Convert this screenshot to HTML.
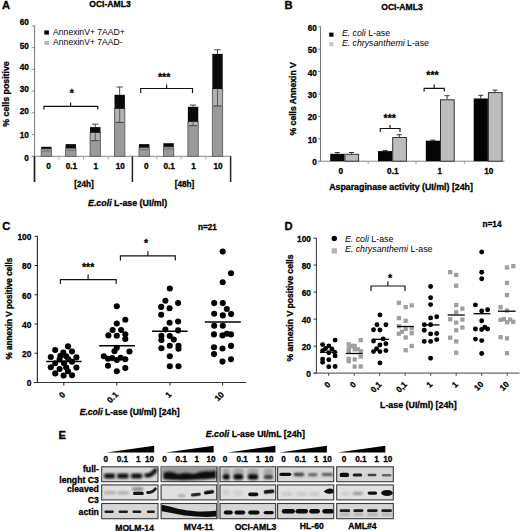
<!DOCTYPE html>
<html><head><meta charset="utf-8"><style>
html,body{margin:0;padding:0;background:#fff;}
svg{display:block;}
text{stroke:#000;stroke-width:0.3px;}
text[font-weight="normal"], text:not([font-weight]){stroke:none;}
</style></head><body>
<svg width="520" height="531" viewBox="0 0 520 531" font-family='"Liberation Sans", sans-serif'>
<defs>
<filter id="b3" x="-50%" y="-100%" width="200%" height="300%"><feGaussianBlur stdDeviation="0.3"/></filter><filter id="b4" x="-50%" y="-100%" width="200%" height="300%"><feGaussianBlur stdDeviation="0.4"/></filter><filter id="b5" x="-50%" y="-100%" width="200%" height="300%"><feGaussianBlur stdDeviation="0.5"/></filter><filter id="b6" x="-50%" y="-100%" width="200%" height="300%"><feGaussianBlur stdDeviation="0.6"/></filter><filter id="b7" x="-50%" y="-100%" width="200%" height="300%"><feGaussianBlur stdDeviation="0.7"/></filter><filter id="b8" x="-50%" y="-100%" width="200%" height="300%"><feGaussianBlur stdDeviation="0.8"/></filter><filter id="b9" x="-50%" y="-100%" width="200%" height="300%"><feGaussianBlur stdDeviation="0.9"/></filter><filter id="b10" x="-50%" y="-100%" width="200%" height="300%"><feGaussianBlur stdDeviation="1.0"/></filter><filter id="b11" x="-50%" y="-100%" width="200%" height="300%"><feGaussianBlur stdDeviation="1.1"/></filter><filter id="b12" x="-50%" y="-100%" width="200%" height="300%"><feGaussianBlur stdDeviation="1.2"/></filter><filter id="b13" x="-50%" y="-100%" width="200%" height="300%"><feGaussianBlur stdDeviation="1.3"/></filter><filter id="b14" x="-50%" y="-100%" width="200%" height="300%"><feGaussianBlur stdDeviation="1.4"/></filter><filter id="b15" x="-50%" y="-100%" width="200%" height="300%"><feGaussianBlur stdDeviation="1.5"/></filter>
</defs>
<rect width="520" height="531" fill="#fff"/>
<text x="2.00" y="9.20" font-size="11.2" font-weight="bold" text-anchor="start" >A</text>
<text x="110.00" y="6.60" font-size="8.6" font-weight="bold" text-anchor="middle" >OCI-AML3</text>
<line x1="34.60" y1="25.60" x2="34.60" y2="156.30" stroke="#777" stroke-width="1" />
<line x1="32.30" y1="25.92" x2="34.60" y2="25.92" stroke="#777" stroke-width="1" />
<text x="28.90" y="25.10" font-size="8.2" font-weight="bold" text-anchor="end" >60</text>
<line x1="32.30" y1="47.65" x2="34.60" y2="47.65" stroke="#777" stroke-width="1" />
<text x="28.90" y="49.30" font-size="8.2" font-weight="bold" text-anchor="end" >50</text>
<line x1="32.30" y1="69.38" x2="34.60" y2="69.38" stroke="#777" stroke-width="1" />
<text x="28.90" y="70.00" font-size="8.2" font-weight="bold" text-anchor="end" >40</text>
<line x1="32.30" y1="91.11" x2="34.60" y2="91.11" stroke="#777" stroke-width="1" />
<text x="28.90" y="92.30" font-size="8.2" font-weight="bold" text-anchor="end" >30</text>
<line x1="32.30" y1="112.84" x2="34.60" y2="112.84" stroke="#777" stroke-width="1" />
<text x="28.90" y="114.00" font-size="8.2" font-weight="bold" text-anchor="end" >20</text>
<line x1="32.30" y1="134.57" x2="34.60" y2="134.57" stroke="#777" stroke-width="1" />
<text x="28.90" y="137.90" font-size="8.2" font-weight="bold" text-anchor="end" >10</text>
<line x1="32.30" y1="156.30" x2="34.60" y2="156.30" stroke="#777" stroke-width="1" />
<text x="28.90" y="160.80" font-size="8.2" font-weight="bold" text-anchor="end" >0</text>
<line x1="32.30" y1="156.30" x2="230.80" y2="156.30" stroke="#888" stroke-width="1" />
<line x1="34.50" y1="156.30" x2="34.50" y2="182.00" stroke="#222" stroke-width="1.7" />
<line x1="132.40" y1="156.30" x2="132.40" y2="182.00" stroke="#222" stroke-width="1.5" />
<line x1="230.60" y1="156.30" x2="230.60" y2="182.00" stroke="#222" stroke-width="1.5" />
<line x1="58.90" y1="156.30" x2="58.90" y2="159.50" stroke="#aaa" stroke-width="1" />
<line x1="83.60" y1="156.30" x2="83.60" y2="159.50" stroke="#aaa" stroke-width="1" />
<line x1="108.20" y1="156.30" x2="108.20" y2="159.50" stroke="#aaa" stroke-width="1" />
<line x1="156.90" y1="156.30" x2="156.90" y2="159.50" stroke="#aaa" stroke-width="1" />
<line x1="181.20" y1="156.30" x2="181.20" y2="159.50" stroke="#aaa" stroke-width="1" />
<line x1="205.80" y1="156.30" x2="205.80" y2="159.50" stroke="#aaa" stroke-width="1" />
<rect x="41.15" y="148.80" width="10.40" height="7.50" fill="#9a9a9a" stroke="#555" stroke-width="0.8" />
<rect x="41.15" y="146.80" width="10.40" height="2.00" fill="#0a0a0a" />
<line x1="42.15" y1="151.00" x2="50.55" y2="151.00" stroke="#666" stroke-width="0.8" />
<rect x="65.60" y="148.20" width="10.40" height="8.10" fill="#9a9a9a" stroke="#555" stroke-width="0.8" />
<rect x="65.60" y="144.10" width="10.40" height="4.10" fill="#0a0a0a" />
<line x1="66.60" y1="150.40" x2="75.00" y2="150.40" stroke="#666" stroke-width="0.8" />
<rect x="90.05" y="132.90" width="10.40" height="23.40" fill="#9a9a9a" stroke="#555" stroke-width="0.8" />
<rect x="90.05" y="127.10" width="10.40" height="5.80" fill="#0a0a0a" />
<rect x="91.05" y="132.90" width="8.40" height="7.70" fill="#b2b2b2" />
<line x1="95.25" y1="132.90" x2="95.25" y2="140.60" stroke="#555" stroke-width="1" />
<line x1="91.05" y1="140.60" x2="99.45" y2="140.60" stroke="#444" stroke-width="1" />
<line x1="95.25" y1="124.10" x2="95.25" y2="127.10" stroke="#444" stroke-width="1" />
<line x1="92.05" y1="124.10" x2="98.45" y2="124.10" stroke="#444" stroke-width="1" />
<rect x="114.50" y="108.90" width="10.40" height="47.40" fill="#9a9a9a" stroke="#555" stroke-width="0.8" />
<rect x="114.50" y="94.80" width="10.40" height="14.10" fill="#0a0a0a" />
<rect x="115.50" y="108.90" width="8.40" height="13.50" fill="#b2b2b2" />
<line x1="119.70" y1="108.90" x2="119.70" y2="122.40" stroke="#555" stroke-width="1" />
<line x1="115.50" y1="122.40" x2="123.90" y2="122.40" stroke="#444" stroke-width="1" />
<line x1="119.70" y1="87.00" x2="119.70" y2="94.80" stroke="#444" stroke-width="1" />
<line x1="116.50" y1="87.00" x2="122.90" y2="87.00" stroke="#444" stroke-width="1" />
<rect x="138.95" y="147.50" width="10.40" height="8.80" fill="#9a9a9a" stroke="#555" stroke-width="0.8" />
<rect x="138.95" y="144.10" width="10.40" height="3.40" fill="#0a0a0a" />
<line x1="139.95" y1="149.70" x2="148.35" y2="149.70" stroke="#666" stroke-width="0.8" />
<rect x="163.40" y="146.80" width="10.40" height="9.50" fill="#9a9a9a" stroke="#555" stroke-width="0.8" />
<rect x="163.40" y="143.20" width="10.40" height="3.60" fill="#0a0a0a" />
<line x1="164.40" y1="149.00" x2="172.80" y2="149.00" stroke="#666" stroke-width="0.8" />
<rect x="187.85" y="121.90" width="10.40" height="34.40" fill="#9a9a9a" stroke="#555" stroke-width="0.8" />
<rect x="187.85" y="106.80" width="10.40" height="15.10" fill="#0a0a0a" />
<rect x="188.85" y="121.90" width="8.40" height="3.80" fill="#b2b2b2" />
<line x1="193.05" y1="121.90" x2="193.05" y2="125.70" stroke="#555" stroke-width="1" />
<line x1="188.85" y1="125.70" x2="197.25" y2="125.70" stroke="#444" stroke-width="1" />
<line x1="193.05" y1="105.10" x2="193.05" y2="106.80" stroke="#444" stroke-width="1" />
<line x1="189.85" y1="105.10" x2="196.25" y2="105.10" stroke="#444" stroke-width="1" />
<rect x="212.30" y="89.10" width="10.40" height="67.20" fill="#9a9a9a" stroke="#555" stroke-width="0.8" />
<rect x="212.30" y="53.90" width="10.40" height="35.20" fill="#0a0a0a" />
<rect x="213.30" y="89.10" width="8.40" height="16.90" fill="#b2b2b2" />
<line x1="217.50" y1="89.10" x2="217.50" y2="106.00" stroke="#555" stroke-width="1" />
<line x1="213.30" y1="106.00" x2="221.70" y2="106.00" stroke="#444" stroke-width="1" />
<line x1="217.50" y1="49.80" x2="217.50" y2="53.90" stroke="#444" stroke-width="1" />
<line x1="214.30" y1="49.80" x2="220.70" y2="49.80" stroke="#444" stroke-width="1" />
<text x="48.55" y="169.30" font-size="8.2" font-weight="bold" text-anchor="middle" >0</text>
<text x="71.40" y="169.30" font-size="8.2" font-weight="bold" text-anchor="middle" >0.1</text>
<text x="95.85" y="169.30" font-size="8.2" font-weight="bold" text-anchor="middle" >1</text>
<text x="120.30" y="169.30" font-size="8.2" font-weight="bold" text-anchor="middle" >10</text>
<text x="146.35" y="169.30" font-size="8.2" font-weight="bold" text-anchor="middle" >0</text>
<text x="169.20" y="169.30" font-size="8.2" font-weight="bold" text-anchor="middle" >0.1</text>
<text x="193.65" y="169.30" font-size="8.2" font-weight="bold" text-anchor="middle" >1</text>
<text x="218.10" y="169.30" font-size="8.2" font-weight="bold" text-anchor="middle" >10</text>
<text x="84.00" y="187.20" font-size="8.2" font-weight="bold" text-anchor="middle" >[24h]</text>
<text x="184.50" y="187.20" font-size="8.2" font-weight="bold" text-anchor="middle" >[48h]</text>
<text x="88.0" y="205.6" font-size="8.85" font-weight="bold"><tspan font-style="italic">E.coli</tspan> L-ase (UI/ml)</text>
<text transform="translate(9.2,94) rotate(-90)" font-size="8.8" font-weight="bold" text-anchor="middle">% cells positive</text>
<rect x="44.30" y="30.40" width="4.60" height="4.20" fill="#000" />
<rect x="44.30" y="40.80" width="4.60" height="4.20" fill="#b8b8b8" />
<text x="53.10" y="34.60" font-size="8.6" font-weight="normal" text-anchor="start" >AnnexinV+ 7AAD+</text>
<text x="53.10" y="44.80" font-size="8.6" font-weight="normal" text-anchor="start" >AnnexinV+ 7AAD-</text>
<path d="M44.00,109.50 L44.00,106.30 L97.80,106.30 L97.80,109.50 M70.60,106.30 L70.60,102.50" fill="none" stroke="#111" stroke-width="1.15"/>
<text x="71.70" y="97.40" font-size="10.5" font-weight="bold" text-anchor="middle" >*</text>
<path d="M140.70,93.10 L140.70,88.50 L192.50,88.50 L192.50,93.10 M166.60,88.50 L166.60,84.40" fill="none" stroke="#111" stroke-width="1.15"/>
<text x="164.10" y="81.40" font-size="10.5" font-weight="bold" text-anchor="middle" >***</text>
<text x="284.40" y="9.00" font-size="11.2" font-weight="bold" text-anchor="start" >B</text>
<text x="402.00" y="9.60" font-size="8.6" font-weight="bold" text-anchor="middle" >OCI-AML3</text>
<line x1="320.50" y1="26.40" x2="320.50" y2="161.20" stroke="#777" stroke-width="1" />
<line x1="318.20" y1="26.80" x2="320.50" y2="26.80" stroke="#777" stroke-width="1" />
<text x="316.80" y="30.70" font-size="8.2" font-weight="bold" text-anchor="end" >60</text>
<line x1="318.20" y1="49.20" x2="320.50" y2="49.20" stroke="#777" stroke-width="1" />
<text x="316.80" y="53.10" font-size="8.2" font-weight="bold" text-anchor="end" >50</text>
<line x1="318.20" y1="71.60" x2="320.50" y2="71.60" stroke="#777" stroke-width="1" />
<text x="316.80" y="75.50" font-size="8.2" font-weight="bold" text-anchor="end" >40</text>
<line x1="318.20" y1="94.00" x2="320.50" y2="94.00" stroke="#777" stroke-width="1" />
<text x="316.80" y="97.90" font-size="8.2" font-weight="bold" text-anchor="end" >30</text>
<line x1="318.20" y1="116.40" x2="320.50" y2="116.40" stroke="#777" stroke-width="1" />
<text x="316.80" y="120.30" font-size="8.2" font-weight="bold" text-anchor="end" >20</text>
<line x1="318.20" y1="138.80" x2="320.50" y2="138.80" stroke="#777" stroke-width="1" />
<text x="316.80" y="142.70" font-size="8.2" font-weight="bold" text-anchor="end" >10</text>
<line x1="318.20" y1="161.20" x2="320.50" y2="161.20" stroke="#777" stroke-width="1" />
<text x="316.80" y="165.10" font-size="8.2" font-weight="bold" text-anchor="end" >0</text>
<line x1="318.00" y1="161.20" x2="504.60" y2="161.20" stroke="#888" stroke-width="1" />
<line x1="368.20" y1="161.20" x2="368.20" y2="163.80" stroke="#999" stroke-width="1" />
<line x1="416.00" y1="161.20" x2="416.00" y2="163.80" stroke="#999" stroke-width="1" />
<line x1="464.30" y1="161.20" x2="464.30" y2="163.80" stroke="#999" stroke-width="1" />
<line x1="337.30" y1="152.50" x2="337.30" y2="153.80" stroke="#333" stroke-width="1" />
<line x1="334.80" y1="152.50" x2="339.80" y2="152.50" stroke="#333" stroke-width="1" />
<line x1="351.50" y1="152.50" x2="351.50" y2="153.80" stroke="#333" stroke-width="1" />
<line x1="349.00" y1="152.50" x2="354.00" y2="152.50" stroke="#333" stroke-width="1" />
<rect x="330.20" y="153.80" width="14.20" height="7.40" fill="#050505" />
<rect x="344.90" y="154.30" width="13.70" height="6.90" fill="#bdbdbd" stroke="#333" stroke-width="1" />
<line x1="385.10" y1="150.40" x2="385.10" y2="151.10" stroke="#333" stroke-width="1" />
<line x1="382.60" y1="150.40" x2="387.60" y2="150.40" stroke="#333" stroke-width="1" />
<line x1="399.30" y1="134.70" x2="399.30" y2="137.00" stroke="#333" stroke-width="1" />
<line x1="396.80" y1="134.70" x2="401.80" y2="134.70" stroke="#333" stroke-width="1" />
<rect x="378.00" y="151.10" width="14.20" height="10.10" fill="#050505" />
<rect x="392.70" y="137.50" width="13.70" height="23.70" fill="#bdbdbd" stroke="#333" stroke-width="1" />
<line x1="432.90" y1="140.20" x2="432.90" y2="140.70" stroke="#333" stroke-width="1" />
<line x1="430.40" y1="140.20" x2="435.40" y2="140.20" stroke="#333" stroke-width="1" />
<line x1="447.10" y1="95.70" x2="447.10" y2="99.30" stroke="#333" stroke-width="1" />
<line x1="444.60" y1="95.70" x2="449.60" y2="95.70" stroke="#333" stroke-width="1" />
<rect x="425.80" y="140.70" width="14.20" height="20.50" fill="#050505" />
<rect x="440.50" y="99.80" width="13.70" height="61.40" fill="#bdbdbd" stroke="#333" stroke-width="1" />
<line x1="480.80" y1="95.30" x2="480.80" y2="98.50" stroke="#333" stroke-width="1" />
<line x1="478.30" y1="95.30" x2="483.30" y2="95.30" stroke="#333" stroke-width="1" />
<line x1="495.00" y1="90.10" x2="495.00" y2="92.10" stroke="#333" stroke-width="1" />
<line x1="492.50" y1="90.10" x2="497.50" y2="90.10" stroke="#333" stroke-width="1" />
<rect x="473.70" y="98.50" width="14.20" height="62.70" fill="#050505" />
<rect x="488.40" y="92.60" width="13.70" height="68.60" fill="#bdbdbd" stroke="#333" stroke-width="1" />
<text x="340.80" y="173.90" font-size="8.2" font-weight="bold" text-anchor="middle" >0</text>
<text x="392.80" y="173.90" font-size="8.2" font-weight="bold" text-anchor="middle" >0.1</text>
<text x="439.70" y="173.90" font-size="8.2" font-weight="bold" text-anchor="middle" >1</text>
<text x="488.70" y="173.90" font-size="8.2" font-weight="bold" text-anchor="middle" >10</text>
<text x="329.20" y="189.90" font-size="8.8" font-weight="bold" text-anchor="start" >Asparaginase activity (UI/ml) [24h]</text>
<text transform="translate(296.2,98.8) rotate(-90)" font-size="8.6" font-weight="bold" text-anchor="middle">% cells Annexin V</text>
<rect x="329.20" y="32.60" width="4.30" height="4.10" fill="#000" />
<rect x="329.20" y="42.20" width="4.30" height="4.10" fill="#c4c4c4" />
<text x="341.9" y="35.8" font-size="8.75"><tspan font-style="italic">E. coli</tspan> L-ase</text>
<text x="341.9" y="46.0" font-size="8.75"><tspan font-style="italic">E. chrysanthemi</tspan> L-ase</text>
<path d="M380.30,132.00 L380.30,128.50 L400.00,128.50 L400.00,132.00 M390.00,128.50 L390.00,124.90" fill="none" stroke="#111" stroke-width="1.15"/>
<text x="389.70" y="121.60" font-size="10.5" font-weight="bold" text-anchor="middle" >***</text>
<path d="M424.10,91.60 L424.10,88.30 L444.30,88.30 L444.30,91.60 M434.20,88.30 L434.20,84.60" fill="none" stroke="#111" stroke-width="1.15"/>
<text x="432.50" y="79.40" font-size="10.5" font-weight="bold" text-anchor="middle" >***</text>
<text x="2.20" y="229.80" font-size="11.2" font-weight="bold" text-anchor="start" >C</text>
<line x1="37.40" y1="236.00" x2="37.40" y2="382.50" stroke="#333" stroke-width="1.2" />
<line x1="34.60" y1="236.30" x2="37.40" y2="236.30" stroke="#222" stroke-width="1" />
<text x="31.4" y="240.20" font-size="9.4" font-weight="bold" text-anchor="end" textLength="14.01" lengthAdjust="spacingAndGlyphs">100</text>
<line x1="34.60" y1="265.54" x2="37.40" y2="265.54" stroke="#222" stroke-width="1" />
<text x="31.4" y="269.44" font-size="9.4" font-weight="bold" text-anchor="end" textLength="9.34" lengthAdjust="spacingAndGlyphs">80</text>
<line x1="34.60" y1="294.78" x2="37.40" y2="294.78" stroke="#222" stroke-width="1" />
<text x="31.4" y="298.68" font-size="9.4" font-weight="bold" text-anchor="end" textLength="9.34" lengthAdjust="spacingAndGlyphs">60</text>
<line x1="34.60" y1="324.02" x2="37.40" y2="324.02" stroke="#222" stroke-width="1" />
<text x="31.4" y="327.92" font-size="9.4" font-weight="bold" text-anchor="end" textLength="9.34" lengthAdjust="spacingAndGlyphs">40</text>
<line x1="34.60" y1="353.26" x2="37.40" y2="353.26" stroke="#222" stroke-width="1" />
<text x="31.4" y="357.16" font-size="9.4" font-weight="bold" text-anchor="end" textLength="9.34" lengthAdjust="spacingAndGlyphs">20</text>
<line x1="34.60" y1="382.50" x2="37.40" y2="382.50" stroke="#222" stroke-width="1" />
<text x="31.4" y="386.40" font-size="9.4" font-weight="bold" text-anchor="end" textLength="4.67" lengthAdjust="spacingAndGlyphs">0</text>
<line x1="33.80" y1="382.50" x2="246.20" y2="382.50" stroke="#333" stroke-width="1.2" />
<line x1="63.80" y1="382.50" x2="63.80" y2="385.60" stroke="#222" stroke-width="1" />
<line x1="116.80" y1="382.50" x2="116.80" y2="385.60" stroke="#222" stroke-width="1" />
<line x1="170.00" y1="382.50" x2="170.00" y2="385.60" stroke="#222" stroke-width="1" />
<line x1="222.60" y1="382.50" x2="222.60" y2="385.60" stroke="#222" stroke-width="1" />
<text transform="translate(65.80,395.2) rotate(-45)" font-size="8.4" font-weight="bold" text-anchor="end">0</text>
<text transform="translate(118.80,395.2) rotate(-45)" font-size="8.4" font-weight="bold" text-anchor="end">0.1</text>
<text transform="translate(172.00,395.2) rotate(-45)" font-size="8.4" font-weight="bold" text-anchor="end">1</text>
<text transform="translate(224.60,395.2) rotate(-45)" font-size="8.4" font-weight="bold" text-anchor="end">10</text>
<text x="79.7" y="415.0" font-size="8.6" font-weight="bold"><tspan font-style="italic">E.coli</tspan> L-ase (UI/ml) [24h]</text>
<text transform="translate(12.2,308.6) rotate(-90)" font-size="8.2" font-weight="bold" text-anchor="middle">% annexin V positive cells</text>
<text x="207.40" y="229.80" font-size="8.2" font-weight="bold" text-anchor="middle" >n=21</text>
<path d="M60.40,284.00 L60.40,279.60 L116.20,279.60 L116.20,284.00 M88.10,279.60 L88.10,274.40" fill="none" stroke="#111" stroke-width="1.15"/>
<text x="88.10" y="271.30" font-size="10.5" font-weight="bold" text-anchor="middle" >***</text>
<path d="M120.40,260.60 L120.40,255.80 L175.30,255.80 L175.30,260.60 M147.90,255.80 L147.90,251.30" fill="none" stroke="#111" stroke-width="1.15"/>
<text x="146.00" y="247.40" font-size="10.5" font-weight="bold" text-anchor="middle" >*</text>
<circle cx="68.0" cy="346.4" r="3.05" fill="#000"/>
<circle cx="55.2" cy="350.0" r="3.05" fill="#000"/>
<circle cx="72.0" cy="351.5" r="3.05" fill="#000"/>
<circle cx="63.3" cy="352.6" r="3.05" fill="#000"/>
<circle cx="50.8" cy="357.0" r="3.05" fill="#000"/>
<circle cx="76.4" cy="357.4" r="3.05" fill="#000"/>
<circle cx="60.4" cy="355.9" r="3.05" fill="#000"/>
<circle cx="66.2" cy="356.3" r="3.05" fill="#000"/>
<circle cx="68.4" cy="359.2" r="3.05" fill="#000"/>
<circle cx="59.6" cy="359.5" r="3.05" fill="#000"/>
<circle cx="72.0" cy="361.7" r="3.05" fill="#000"/>
<circle cx="55.2" cy="363.2" r="3.05" fill="#000"/>
<circle cx="64.0" cy="363.2" r="3.05" fill="#000"/>
<circle cx="50.8" cy="367.2" r="3.05" fill="#000"/>
<circle cx="76.4" cy="367.6" r="3.05" fill="#000"/>
<circle cx="59.6" cy="369.0" r="3.05" fill="#000"/>
<circle cx="66.2" cy="367.6" r="3.05" fill="#000"/>
<circle cx="68.0" cy="371.2" r="3.05" fill="#000"/>
<circle cx="55.2" cy="373.4" r="3.05" fill="#000"/>
<circle cx="63.6" cy="375.6" r="3.05" fill="#000"/>
<circle cx="72.0" cy="375.3" r="3.05" fill="#000"/>
<circle cx="116.8" cy="306.2" r="3.05" fill="#000"/>
<circle cx="125.3" cy="319.8" r="3.05" fill="#000"/>
<circle cx="116.8" cy="323.5" r="3.05" fill="#000"/>
<circle cx="112.6" cy="330.0" r="3.05" fill="#000"/>
<circle cx="121.1" cy="330.0" r="3.05" fill="#000"/>
<circle cx="108.4" cy="335.4" r="3.05" fill="#000"/>
<circle cx="116.8" cy="335.8" r="3.05" fill="#000"/>
<circle cx="125.3" cy="334.2" r="3.05" fill="#000"/>
<circle cx="125.3" cy="339.0" r="3.05" fill="#000"/>
<circle cx="116.8" cy="347.7" r="3.05" fill="#000"/>
<circle cx="114.5" cy="351.2" r="3.05" fill="#000"/>
<circle cx="129.5" cy="351.5" r="3.05" fill="#000"/>
<circle cx="103.8" cy="356.2" r="3.05" fill="#000"/>
<circle cx="108.0" cy="358.8" r="3.05" fill="#000"/>
<circle cx="112.2" cy="358.1" r="3.05" fill="#000"/>
<circle cx="116.8" cy="360.0" r="3.05" fill="#000"/>
<circle cx="120.7" cy="357.7" r="3.05" fill="#000"/>
<circle cx="125.3" cy="359.2" r="3.05" fill="#000"/>
<circle cx="108.0" cy="365.8" r="3.05" fill="#000"/>
<circle cx="125.3" cy="368.1" r="3.05" fill="#000"/>
<circle cx="116.8" cy="371.2" r="3.05" fill="#000"/>
<circle cx="169.8" cy="288.5" r="3.05" fill="#000"/>
<circle cx="165.4" cy="300.8" r="3.05" fill="#000"/>
<circle cx="178.1" cy="303.1" r="3.05" fill="#000"/>
<circle cx="161.2" cy="306.9" r="3.05" fill="#000"/>
<circle cx="169.6" cy="308.2" r="3.05" fill="#000"/>
<circle cx="161.2" cy="314.8" r="3.05" fill="#000"/>
<circle cx="169.6" cy="322.8" r="3.05" fill="#000"/>
<circle cx="178.1" cy="321.5" r="3.05" fill="#000"/>
<circle cx="165.4" cy="329.5" r="3.05" fill="#000"/>
<circle cx="178.1" cy="330.4" r="3.05" fill="#000"/>
<circle cx="161.4" cy="335.8" r="3.05" fill="#000"/>
<circle cx="161.4" cy="340.0" r="3.05" fill="#000"/>
<circle cx="169.8" cy="336.0" r="3.05" fill="#000"/>
<circle cx="173.8" cy="339.6" r="3.05" fill="#000"/>
<circle cx="169.8" cy="345.8" r="3.05" fill="#000"/>
<circle cx="178.5" cy="345.8" r="3.05" fill="#000"/>
<circle cx="178.5" cy="348.8" r="3.05" fill="#000"/>
<circle cx="161.4" cy="348.3" r="3.05" fill="#000"/>
<circle cx="169.8" cy="356.2" r="3.05" fill="#000"/>
<circle cx="169.8" cy="366.2" r="3.05" fill="#000"/>
<circle cx="178.5" cy="366.2" r="3.05" fill="#000"/>
<circle cx="222.7" cy="251.6" r="3.05" fill="#000"/>
<circle cx="231.0" cy="273.2" r="3.05" fill="#000"/>
<circle cx="222.7" cy="282.2" r="3.05" fill="#000"/>
<circle cx="214.2" cy="303.1" r="3.05" fill="#000"/>
<circle cx="222.8" cy="303.1" r="3.05" fill="#000"/>
<circle cx="226.8" cy="309.0" r="3.05" fill="#000"/>
<circle cx="214.2" cy="313.8" r="3.05" fill="#000"/>
<circle cx="222.8" cy="315.4" r="3.05" fill="#000"/>
<circle cx="231.1" cy="314.1" r="3.05" fill="#000"/>
<circle cx="214.2" cy="325.8" r="3.05" fill="#000"/>
<circle cx="222.8" cy="325.8" r="3.05" fill="#000"/>
<circle cx="214.0" cy="334.4" r="3.05" fill="#000"/>
<circle cx="222.5" cy="335.4" r="3.05" fill="#000"/>
<circle cx="226.9" cy="333.7" r="3.05" fill="#000"/>
<circle cx="231.0" cy="334.4" r="3.05" fill="#000"/>
<circle cx="214.0" cy="347.3" r="3.05" fill="#000"/>
<circle cx="222.5" cy="348.5" r="3.05" fill="#000"/>
<circle cx="231.0" cy="345.9" r="3.05" fill="#000"/>
<circle cx="214.0" cy="354.1" r="3.05" fill="#000"/>
<circle cx="222.5" cy="361.6" r="3.05" fill="#000"/>
<circle cx="231.0" cy="359.2" r="3.05" fill="#000"/>
<line x1="46.20" y1="361.60" x2="81.60" y2="361.60" stroke="#000" stroke-width="1.5" />
<line x1="99.20" y1="345.80" x2="134.90" y2="345.80" stroke="#000" stroke-width="1.5" />
<line x1="152.00" y1="331.30" x2="187.60" y2="331.30" stroke="#000" stroke-width="1.5" />
<line x1="204.90" y1="321.90" x2="240.80" y2="321.90" stroke="#000" stroke-width="1.5" />
<text x="284.40" y="229.80" font-size="11.2" font-weight="bold" text-anchor="start" >D</text>
<line x1="316.40" y1="238.00" x2="316.40" y2="373.20" stroke="#333" stroke-width="1" />
<line x1="313.60" y1="238.10" x2="316.40" y2="238.10" stroke="#333" stroke-width="1" />
<text x="311.0" y="241.80" font-size="9.4" font-weight="bold" text-anchor="end" textLength="14.01" lengthAdjust="spacingAndGlyphs">100</text>
<line x1="313.60" y1="265.12" x2="316.40" y2="265.12" stroke="#333" stroke-width="1" />
<text x="311.0" y="268.82" font-size="9.4" font-weight="bold" text-anchor="end" textLength="9.34" lengthAdjust="spacingAndGlyphs">80</text>
<line x1="313.60" y1="292.14" x2="316.40" y2="292.14" stroke="#333" stroke-width="1" />
<text x="311.0" y="295.84" font-size="9.4" font-weight="bold" text-anchor="end" textLength="9.34" lengthAdjust="spacingAndGlyphs">60</text>
<line x1="313.60" y1="319.16" x2="316.40" y2="319.16" stroke="#333" stroke-width="1" />
<text x="311.0" y="322.86" font-size="9.4" font-weight="bold" text-anchor="end" textLength="9.34" lengthAdjust="spacingAndGlyphs">40</text>
<line x1="313.60" y1="346.18" x2="316.40" y2="346.18" stroke="#333" stroke-width="1" />
<text x="311.0" y="349.88" font-size="9.4" font-weight="bold" text-anchor="end" textLength="9.34" lengthAdjust="spacingAndGlyphs">20</text>
<line x1="313.60" y1="373.20" x2="316.40" y2="373.20" stroke="#333" stroke-width="1" />
<text x="311.0" y="376.90" font-size="9.4" font-weight="bold" text-anchor="end" textLength="4.67" lengthAdjust="spacingAndGlyphs">0</text>
<line x1="313.60" y1="373.10" x2="519.60" y2="373.10" stroke="#444" stroke-width="1" />
<line x1="328.70" y1="373.10" x2="328.70" y2="375.80" stroke="#444" stroke-width="1" />
<line x1="354.20" y1="373.10" x2="354.20" y2="375.80" stroke="#444" stroke-width="1" />
<line x1="379.70" y1="373.10" x2="379.70" y2="375.80" stroke="#444" stroke-width="1" />
<line x1="405.20" y1="373.10" x2="405.20" y2="375.80" stroke="#444" stroke-width="1" />
<line x1="430.70" y1="373.10" x2="430.70" y2="375.80" stroke="#444" stroke-width="1" />
<line x1="456.20" y1="373.10" x2="456.20" y2="375.80" stroke="#444" stroke-width="1" />
<line x1="481.70" y1="373.10" x2="481.70" y2="375.80" stroke="#444" stroke-width="1" />
<line x1="507.20" y1="373.10" x2="507.20" y2="375.80" stroke="#444" stroke-width="1" />
<text transform="translate(331.00,384.9) rotate(-45)" font-size="8.2" font-weight="bold" text-anchor="end">0</text>
<text transform="translate(356.50,384.9) rotate(-45)" font-size="8.2" font-weight="bold" text-anchor="end">0</text>
<text transform="translate(382.00,384.9) rotate(-45)" font-size="8.2" font-weight="bold" text-anchor="end">0,1</text>
<text transform="translate(407.50,384.9) rotate(-45)" font-size="8.2" font-weight="bold" text-anchor="end">0,1</text>
<text transform="translate(433.00,384.9) rotate(-45)" font-size="8.2" font-weight="bold" text-anchor="end">1</text>
<text transform="translate(458.50,384.9) rotate(-45)" font-size="8.2" font-weight="bold" text-anchor="end">1</text>
<text transform="translate(484.00,384.9) rotate(-45)" font-size="8.2" font-weight="bold" text-anchor="end">10</text>
<text transform="translate(509.50,384.9) rotate(-45)" font-size="8.2" font-weight="bold" text-anchor="end">10</text>
<text x="380.00" y="408.20" font-size="8.85" font-weight="bold" text-anchor="start" >L-ase (UI/ml) [24h]</text>
<text transform="translate(293.4,308.0) rotate(-90)" font-size="8.6" font-weight="bold" text-anchor="middle">% annexin V positive cells</text>
<text x="492.00" y="227.30" font-size="8.2" font-weight="bold" text-anchor="middle" >n=14</text>
<circle cx="334.3" cy="238.4" r="2.7" fill="#000"/>
<rect x="331.60" y="248.20" width="5.40" height="5.40" fill="#b4b4b4" />
<text x="344.9" y="241.7" font-size="8.8"><tspan font-style="italic">E. coli</tspan> L-ase</text>
<text x="344.9" y="252.4" font-size="8.8"><tspan font-style="italic">E. chrysanthemi</tspan> L-ase</text>
<path d="M371.00,290.90 L371.00,286.00 L405.00,286.00 L405.00,290.90 M387.90,286.00 L387.90,281.30" fill="none" stroke="#111" stroke-width="1.15"/>
<text x="390.00" y="281.70" font-size="10.5" font-weight="bold" text-anchor="middle" >*</text>
<rect x="358.55" y="337.95" width="4.30" height="4.30" fill="#9f9f9f" />
<rect x="346.55" y="342.15" width="4.30" height="4.30" fill="#9f9f9f" />
<rect x="349.35" y="343.75" width="4.30" height="4.30" fill="#9f9f9f" />
<rect x="352.55" y="343.75" width="4.30" height="4.30" fill="#9f9f9f" />
<rect x="346.75" y="346.35" width="4.30" height="4.30" fill="#9f9f9f" />
<rect x="352.55" y="347.15" width="4.30" height="4.30" fill="#9f9f9f" />
<rect x="355.75" y="347.15" width="4.30" height="4.30" fill="#9f9f9f" />
<rect x="358.85" y="349.05" width="4.30" height="4.30" fill="#9f9f9f" />
<rect x="346.55" y="349.05" width="4.30" height="4.30" fill="#9f9f9f" />
<rect x="358.55" y="354.35" width="4.30" height="4.30" fill="#9f9f9f" />
<rect x="346.55" y="356.65" width="4.30" height="4.30" fill="#9f9f9f" />
<rect x="352.55" y="357.25" width="4.30" height="4.30" fill="#9f9f9f" />
<rect x="346.55" y="359.05" width="4.30" height="4.30" fill="#9f9f9f" />
<rect x="352.55" y="364.35" width="4.30" height="4.30" fill="#9f9f9f" />
<rect x="358.55" y="364.35" width="4.30" height="4.30" fill="#9f9f9f" />
<rect x="396.75" y="300.65" width="4.30" height="4.30" fill="#9f9f9f" />
<rect x="403.55" y="304.95" width="4.30" height="4.30" fill="#9f9f9f" />
<rect x="409.55" y="303.25" width="4.30" height="4.30" fill="#9f9f9f" />
<rect x="396.75" y="315.95" width="4.30" height="4.30" fill="#9f9f9f" />
<rect x="403.55" y="318.75" width="4.30" height="4.30" fill="#9f9f9f" />
<rect x="396.75" y="324.05" width="4.30" height="4.30" fill="#9f9f9f" />
<rect x="403.55" y="326.85" width="4.30" height="4.30" fill="#9f9f9f" />
<rect x="409.55" y="326.15" width="4.30" height="4.30" fill="#9f9f9f" />
<rect x="396.75" y="331.55" width="4.30" height="4.30" fill="#9f9f9f" />
<rect x="399.85" y="329.65" width="4.30" height="4.30" fill="#9f9f9f" />
<rect x="409.55" y="331.05" width="4.30" height="4.30" fill="#9f9f9f" />
<rect x="403.55" y="335.35" width="4.30" height="4.30" fill="#9f9f9f" />
<rect x="409.55" y="343.85" width="4.30" height="4.30" fill="#9f9f9f" />
<rect x="403.55" y="348.05" width="4.30" height="4.30" fill="#9f9f9f" />
<rect x="448.05" y="270.05" width="4.30" height="4.30" fill="#9f9f9f" />
<rect x="454.05" y="272.75" width="4.30" height="4.30" fill="#9f9f9f" />
<rect x="454.05" y="283.55" width="4.30" height="4.30" fill="#9f9f9f" />
<rect x="454.05" y="302.85" width="4.30" height="4.30" fill="#9f9f9f" />
<rect x="460.25" y="306.45" width="4.30" height="4.30" fill="#9f9f9f" />
<rect x="454.05" y="310.05" width="4.30" height="4.30" fill="#9f9f9f" />
<rect x="448.05" y="317.15" width="4.30" height="4.30" fill="#9f9f9f" />
<rect x="460.25" y="317.45" width="4.30" height="4.30" fill="#9f9f9f" />
<rect x="454.05" y="320.45" width="4.30" height="4.30" fill="#9f9f9f" />
<rect x="460.25" y="325.35" width="4.30" height="4.30" fill="#9f9f9f" />
<rect x="454.05" y="328.15" width="4.30" height="4.30" fill="#9f9f9f" />
<rect x="448.05" y="335.55" width="4.30" height="4.30" fill="#9f9f9f" />
<rect x="454.05" y="339.25" width="4.30" height="4.30" fill="#9f9f9f" />
<rect x="454.05" y="350.55" width="4.30" height="4.30" fill="#9f9f9f" />
<rect x="504.85" y="265.35" width="4.30" height="4.30" fill="#9f9f9f" />
<rect x="511.15" y="263.95" width="4.30" height="4.30" fill="#9f9f9f" />
<rect x="504.85" y="280.75" width="4.30" height="4.30" fill="#9f9f9f" />
<rect x="504.85" y="292.95" width="4.30" height="4.30" fill="#9f9f9f" />
<rect x="498.45" y="305.05" width="4.30" height="4.30" fill="#9f9f9f" />
<rect x="504.85" y="308.45" width="4.30" height="4.30" fill="#9f9f9f" />
<rect x="498.45" y="317.75" width="4.30" height="4.30" fill="#9f9f9f" />
<rect x="501.85" y="316.95" width="4.30" height="4.30" fill="#9f9f9f" />
<rect x="504.85" y="320.05" width="4.30" height="4.30" fill="#9f9f9f" />
<rect x="508.05" y="317.45" width="4.30" height="4.30" fill="#9f9f9f" />
<rect x="511.15" y="319.65" width="4.30" height="4.30" fill="#9f9f9f" />
<rect x="498.45" y="335.05" width="4.30" height="4.30" fill="#9f9f9f" />
<rect x="504.85" y="336.15" width="4.30" height="4.30" fill="#9f9f9f" />
<rect x="504.85" y="351.05" width="4.30" height="4.30" fill="#9f9f9f" />
<circle cx="335.1" cy="340.1" r="2.45" fill="#000"/>
<circle cx="322.6" cy="344.6" r="2.45" fill="#000"/>
<circle cx="328.8" cy="345.9" r="2.45" fill="#000"/>
<circle cx="325.6" cy="348.5" r="2.45" fill="#000"/>
<circle cx="331.9" cy="349.0" r="2.45" fill="#000"/>
<circle cx="322.6" cy="350.6" r="2.45" fill="#000"/>
<circle cx="328.8" cy="352.8" r="2.45" fill="#000"/>
<circle cx="334.6" cy="352.2" r="2.45" fill="#000"/>
<circle cx="335.1" cy="355.9" r="2.45" fill="#000"/>
<circle cx="322.6" cy="359.1" r="2.45" fill="#000"/>
<circle cx="328.8" cy="359.8" r="2.45" fill="#000"/>
<circle cx="322.6" cy="362.3" r="2.45" fill="#000"/>
<circle cx="328.8" cy="366.8" r="2.45" fill="#000"/>
<circle cx="335.1" cy="366.5" r="2.45" fill="#000"/>
<circle cx="379.9" cy="314.9" r="2.45" fill="#000"/>
<circle cx="377.0" cy="324.8" r="2.45" fill="#000"/>
<circle cx="385.9" cy="324.8" r="2.45" fill="#000"/>
<circle cx="373.5" cy="329.7" r="2.45" fill="#000"/>
<circle cx="379.9" cy="330.0" r="2.45" fill="#000"/>
<circle cx="383.1" cy="338.9" r="2.45" fill="#000"/>
<circle cx="373.5" cy="341.0" r="2.45" fill="#000"/>
<circle cx="379.9" cy="345.0" r="2.45" fill="#000"/>
<circle cx="385.9" cy="343.8" r="2.45" fill="#000"/>
<circle cx="376.6" cy="348.8" r="2.45" fill="#000"/>
<circle cx="373.5" cy="351.6" r="2.45" fill="#000"/>
<circle cx="379.9" cy="351.6" r="2.45" fill="#000"/>
<circle cx="385.9" cy="350.6" r="2.45" fill="#000"/>
<circle cx="379.9" cy="362.9" r="2.45" fill="#000"/>
<circle cx="430.6" cy="286.5" r="2.45" fill="#000"/>
<circle cx="430.6" cy="297.8" r="2.45" fill="#000"/>
<circle cx="430.6" cy="304.6" r="2.45" fill="#000"/>
<circle cx="436.7" cy="316.8" r="2.45" fill="#000"/>
<circle cx="430.6" cy="317.9" r="2.45" fill="#000"/>
<circle cx="424.3" cy="324.7" r="2.45" fill="#000"/>
<circle cx="430.6" cy="324.7" r="2.45" fill="#000"/>
<circle cx="424.3" cy="330.3" r="2.45" fill="#000"/>
<circle cx="430.6" cy="333.9" r="2.45" fill="#000"/>
<circle cx="436.7" cy="333.5" r="2.45" fill="#000"/>
<circle cx="424.3" cy="341.4" r="2.45" fill="#000"/>
<circle cx="430.6" cy="341.4" r="2.45" fill="#000"/>
<circle cx="436.7" cy="339.6" r="2.45" fill="#000"/>
<circle cx="430.6" cy="358.3" r="2.45" fill="#000"/>
<circle cx="481.7" cy="252.0" r="2.45" fill="#000"/>
<circle cx="481.7" cy="272.3" r="2.45" fill="#000"/>
<circle cx="481.7" cy="278.8" r="2.45" fill="#000"/>
<circle cx="475.4" cy="304.9" r="2.45" fill="#000"/>
<circle cx="481.7" cy="310.9" r="2.45" fill="#000"/>
<circle cx="487.6" cy="309.8" r="2.45" fill="#000"/>
<circle cx="481.7" cy="320.7" r="2.45" fill="#000"/>
<circle cx="475.4" cy="329.0" r="2.45" fill="#000"/>
<circle cx="481.7" cy="329.5" r="2.45" fill="#000"/>
<circle cx="484.8" cy="327.3" r="2.45" fill="#000"/>
<circle cx="487.6" cy="329.0" r="2.45" fill="#000"/>
<circle cx="475.4" cy="339.1" r="2.45" fill="#000"/>
<circle cx="481.7" cy="340.6" r="2.45" fill="#000"/>
<circle cx="481.7" cy="353.5" r="2.45" fill="#000"/>
<line x1="320.00" y1="352.30" x2="337.50" y2="352.30" stroke="#000" stroke-width="1.3" />
<line x1="345.70" y1="353.50" x2="362.60" y2="353.50" stroke="#000" stroke-width="1.3" />
<line x1="372.80" y1="339.30" x2="389.00" y2="339.30" stroke="#000" stroke-width="1.3" />
<line x1="397.20" y1="326.50" x2="413.80" y2="326.50" stroke="#000" stroke-width="1.3" />
<line x1="422.30" y1="324.90" x2="439.60" y2="324.90" stroke="#000" stroke-width="1.3" />
<line x1="447.70" y1="315.00" x2="464.70" y2="315.00" stroke="#000" stroke-width="1.3" />
<line x1="473.50" y1="313.70" x2="490.40" y2="313.70" stroke="#000" stroke-width="1.3" />
<line x1="498.00" y1="311.20" x2="515.60" y2="311.20" stroke="#000" stroke-width="1.3" />
<text x="58.60" y="438.60" font-size="11.2" font-weight="bold" text-anchor="start" >E</text>
<text x="205.8" y="436.5" font-size="8.8" font-weight="bold"><tspan font-style="italic">E.coli</tspan> L-ase UI/mL [24h]</text>
<rect x="216.90" y="466.30" width="2.40" height="52.90" fill="#9a9a9a" />
<polygon points="106.5,452.4 154.2,445.7 154.2,452.4" fill="#000"/>
<text x="105.75" y="461.60" font-size="8.2" font-weight="bold" text-anchor="middle" >0</text>
<text x="122.45" y="461.60" font-size="8.2" font-weight="bold" text-anchor="middle" >0.1</text>
<text x="138.35" y="461.60" font-size="8.2" font-weight="bold" text-anchor="middle" >1</text>
<text x="149.45" y="461.60" font-size="8.2" font-weight="bold" text-anchor="middle" >10</text>
<text x="134.60" y="530.60" font-size="8.6" font-weight="bold" text-anchor="middle" >MOLM-14</text>
<rect x="101.70" y="466.80" width="56.30" height="14.90" fill="#d6d6d6" stroke="#3a3a3a" stroke-width="1.1" />
<rect x="101.70" y="484.90" width="56.30" height="15.00" fill="#e0e0e0" stroke="#3a3a3a" stroke-width="1.1" />
<rect x="101.70" y="503.50" width="56.30" height="15.20" fill="#d6d6d6" stroke="#3a3a3a" stroke-width="1.1" />
<polygon points="165.9,452.4 213.6,445.7 213.6,452.4" fill="#000"/>
<text x="164.60" y="461.60" font-size="8.2" font-weight="bold" text-anchor="middle" >0</text>
<text x="181.25" y="461.60" font-size="8.2" font-weight="bold" text-anchor="middle" >0.1</text>
<text x="196.80" y="461.60" font-size="8.2" font-weight="bold" text-anchor="middle" >1</text>
<text x="211.10" y="461.60" font-size="8.2" font-weight="bold" text-anchor="middle" >10</text>
<text x="198.60" y="529.70" font-size="8.6" font-weight="bold" text-anchor="middle" >MV4-11</text>
<rect x="161.10" y="466.80" width="55.60" height="14.90" fill="#d6d6d6" stroke="#3a3a3a" stroke-width="1.1" />
<rect x="161.10" y="484.90" width="55.60" height="15.00" fill="#e0e0e0" stroke="#3a3a3a" stroke-width="1.1" />
<rect x="161.10" y="503.50" width="55.60" height="15.20" fill="#d6d6d6" stroke="#3a3a3a" stroke-width="1.1" />
<polygon points="227.7,452.4 275.4,445.7 275.4,452.4" fill="#000"/>
<text x="225.00" y="461.60" font-size="8.2" font-weight="bold" text-anchor="middle" >0</text>
<text x="242.10" y="461.60" font-size="8.2" font-weight="bold" text-anchor="middle" >0.1</text>
<text x="258.00" y="461.60" font-size="8.2" font-weight="bold" text-anchor="middle" >1</text>
<text x="269.00" y="461.60" font-size="8.2" font-weight="bold" text-anchor="middle" >10</text>
<text x="255.40" y="529.70" font-size="8.6" font-weight="bold" text-anchor="middle" >OCI-AML3</text>
<rect x="220.00" y="466.80" width="55.70" height="14.90" fill="#d6d6d6" stroke="#3a3a3a" stroke-width="1.1" />
<rect x="220.00" y="484.90" width="55.70" height="15.00" fill="#e0e0e0" stroke="#3a3a3a" stroke-width="1.1" />
<rect x="220.00" y="503.50" width="55.70" height="15.20" fill="#d6d6d6" stroke="#3a3a3a" stroke-width="1.1" />
<polygon points="279.2,452.4 326.9,445.7 326.9,452.4" fill="#000"/>
<text x="283.50" y="461.60" font-size="8.2" font-weight="bold" text-anchor="middle" >0</text>
<text x="300.40" y="461.60" font-size="8.2" font-weight="bold" text-anchor="middle" >0.1</text>
<text x="316.20" y="461.60" font-size="8.2" font-weight="bold" text-anchor="middle" >1</text>
<text x="327.30" y="461.60" font-size="8.2" font-weight="bold" text-anchor="middle" >10</text>
<text x="311.80" y="529.30" font-size="8.6" font-weight="bold" text-anchor="middle" >HL-60</text>
<rect x="277.60" y="466.80" width="56.10" height="14.90" fill="#d6d6d6" stroke="#3a3a3a" stroke-width="1.1" />
<rect x="277.60" y="484.90" width="56.10" height="15.00" fill="#e0e0e0" stroke="#3a3a3a" stroke-width="1.1" />
<rect x="277.60" y="503.50" width="56.10" height="15.20" fill="#d6d6d6" stroke="#3a3a3a" stroke-width="1.1" />
<polygon points="337.5,452.4 385.3,445.7 385.3,452.4" fill="#000"/>
<text x="344.10" y="461.60" font-size="8.2" font-weight="bold" text-anchor="middle" >0</text>
<text x="360.90" y="461.60" font-size="8.2" font-weight="bold" text-anchor="middle" >0.1</text>
<text x="376.60" y="461.60" font-size="8.2" font-weight="bold" text-anchor="middle" >1</text>
<text x="387.70" y="461.60" font-size="8.2" font-weight="bold" text-anchor="middle" >10</text>
<text x="362.40" y="528.60" font-size="8.6" font-weight="bold" text-anchor="middle" >AML#4</text>
<rect x="336.70" y="466.80" width="56.60" height="14.90" fill="#d6d6d6" stroke="#3a3a3a" stroke-width="1.1" />
<rect x="336.70" y="484.90" width="56.60" height="15.00" fill="#e0e0e0" stroke="#3a3a3a" stroke-width="1.1" />
<rect x="336.70" y="503.50" width="56.60" height="15.20" fill="#d6d6d6" stroke="#3a3a3a" stroke-width="1.1" />
<text x="98.90" y="471.90" font-size="8.7" font-weight="bold" text-anchor="end" >full-</text>
<text x="98.90" y="482.50" font-size="8.7" font-weight="bold" text-anchor="end" >lenght C3</text>
<text x="98.90" y="491.90" font-size="8.7" font-weight="bold" text-anchor="end" >cleaved</text>
<text x="98.90" y="502.50" font-size="8.7" font-weight="bold" text-anchor="end" >C3</text>
<text x="98.90" y="514.70" font-size="8.7" font-weight="bold" text-anchor="end" >actin</text>
<rect x="102.20" y="472.75" width="15.00" height="6.50" rx="3.25" fill="#b0b0b0" filter="url(#b12)"/>
<rect x="104.20" y="473.80" width="11.00" height="4.40" rx="2.20" fill="#0c0c0c" filter="url(#b8)"/>
<rect x="115.20" y="472.75" width="15.40" height="6.50" rx="3.25" fill="#b0b0b0" filter="url(#b12)"/>
<rect x="117.20" y="473.80" width="11.40" height="4.40" rx="2.20" fill="#0c0c0c" filter="url(#b8)"/>
<rect x="129.10" y="472.75" width="15.00" height="6.50" rx="3.25" fill="#b0b0b0" filter="url(#b12)"/>
<rect x="131.10" y="473.80" width="11.00" height="4.40" rx="2.20" fill="#0c0c0c" filter="url(#b8)"/>
<path d="M146.4,475.4 Q152,475.6 155.2,470.4" fill="none" stroke="#0c0c0c" stroke-width="4.2" stroke-linecap="round" filter="url(#b8)"/>
<rect x="103.50" y="491.00" width="12.50" height="3.20" rx="1.60" fill="#b0b0b0" filter="url(#b11)"/>
<rect x="117.00" y="491.20" width="12.00" height="3.20" rx="1.60" fill="#b0b0b0" filter="url(#b11)"/>
<rect x="132.00" y="486.90" width="11.50" height="4.20" rx="2.10" fill="#959595" filter="url(#b11)"/>
<rect x="133.00" y="491.80" width="10.80" height="3.20" rx="1.60" fill="#121212" filter="url(#b7)"/>
<path d="M147.6,492.5 Q152.5,492.6 155.4,488.8" fill="none" stroke="#1a1a1a" stroke-width="2.8" stroke-linecap="round" filter="url(#b6)"/>
<rect x="104.40" y="510.50" width="9.40" height="2.60" rx="1.30" fill="#1a1a1a" filter="url(#b6)"/>
<rect x="118.60" y="510.50" width="9.40" height="2.60" rx="1.30" fill="#1a1a1a" filter="url(#b6)"/>
<rect x="132.40" y="510.50" width="9.00" height="2.60" rx="1.30" fill="#1a1a1a" filter="url(#b6)"/>
<rect x="146.80" y="510.50" width="8.10" height="2.60" rx="1.30" fill="#1a1a1a" filter="url(#b6)"/>
<path d="M161.6,466.8 L216.2,466.8 L216.2,471.5 L161.6,474 Z" fill="#9a9a9a" filter="url(#b10)"/>
<path d="M163.2,473.2 Q170,470.2 178,473.8 Q186,471.6 194,473.6 Q202,470.2 210,471.2 L216,470.4 L216,478.6 Q206,479.4 196,479.8 Q186,480.6 176,479.9 Q168,480.2 163.2,479 Z" fill="#101010" filter="url(#b8)"/>
<rect x="177.70" y="494.60" width="7.70" height="2.40" rx="1.20" fill="#a4a4a4" filter="url(#b9)"/>
<rect x="190.80" y="493.00" width="10.10" height="3.20" rx="1.60" fill="#2a2a2a" transform="rotate(-6.00 195.85 494.60)" filter="url(#b7)"/>
<rect x="203.90" y="490.50" width="10.30" height="3.60" rx="1.80" fill="#0e0e0e" transform="rotate(-8.00 209.05 492.30)" filter="url(#b7)"/>
<path d="M161.6,504.8 Q170,506.5 178,508.8 Q188,511 198,511.4 Q207,511.6 216.2,510.8 L216.2,516.6 Q206,517.2 196,516.5 Q184,515.6 174,513.4 Q167,512 161.6,511.2 Z" fill="#0e0e0e" filter="url(#b7)"/>
<rect x="222.10" y="468.00" width="8.30" height="7.00" rx="3.50" fill="#a4a4a4" filter="url(#b14)"/>
<rect x="232.80" y="468.00" width="11.10" height="7.00" rx="3.50" fill="#a4a4a4" filter="url(#b14)"/>
<rect x="247.10" y="468.00" width="11.70" height="7.00" rx="3.50" fill="#a4a4a4" filter="url(#b14)"/>
<rect x="263.20" y="468.00" width="10.50" height="7.00" rx="3.50" fill="#a4a4a4" filter="url(#b14)"/>
<rect x="222.60" y="473.90" width="7.30" height="5.80" rx="2.90" fill="#0e0e0e" filter="url(#b8)"/>
<rect x="233.30" y="473.90" width="10.10" height="5.80" rx="2.90" fill="#0e0e0e" filter="url(#b8)"/>
<rect x="247.60" y="473.90" width="10.70" height="5.80" rx="2.90" fill="#0e0e0e" filter="url(#b8)"/>
<rect x="263.70" y="474.70" width="9.50" height="4.60" rx="2.30" fill="#404040" filter="url(#b9)"/>
<rect x="248.20" y="492.40" width="10.10" height="3.80" rx="1.90" fill="#0e0e0e" filter="url(#b6)"/>
<rect x="263.70" y="489.80" width="10.70" height="3.80" rx="1.90" fill="#151515" transform="rotate(-6.00 269.05 491.70)" filter="url(#b6)"/>
<rect x="222.60" y="489.50" width="7.30" height="6.00" rx="3.00" fill="#cdcdcd" filter="url(#b14)"/>
<rect x="233.30" y="490.00" width="10.10" height="6.00" rx="3.00" fill="#cfcfcf" filter="url(#b14)"/>
<rect x="223.80" y="510.60" width="8.90" height="4.00" rx="2.00" fill="#0c0c0c" filter="url(#b5)"/>
<rect x="234.50" y="510.60" width="10.70" height="4.00" rx="2.00" fill="#0c0c0c" filter="url(#b5)"/>
<rect x="248.20" y="510.60" width="11.30" height="4.00" rx="2.00" fill="#0c0c0c" filter="url(#b5)"/>
<rect x="263.70" y="510.90" width="10.10" height="3.40" rx="1.70" fill="#0c0c0c" filter="url(#b5)"/>
<rect x="279.40" y="472.70" width="11.90" height="3.20" rx="1.60" fill="#101010" filter="url(#b6)"/>
<rect x="293.70" y="472.80" width="10.70" height="3.40" rx="1.70" fill="#3c3c3c" filter="url(#b8)"/>
<rect x="308.00" y="473.30" width="9.50" height="3.00" rx="1.50" fill="#555" filter="url(#b8)"/>
<rect x="321.70" y="473.00" width="11.30" height="3.00" rx="1.50" fill="#555" filter="url(#b8)"/>
<path d="M323.6,491.4 Q326,489.2 329.5,488.6 Q333.6,488.4 333.6,491.2 Q333.6,493.9 329.5,493.7 Q326,493.5 323.6,491.4 Z" fill="#0a0a0a" filter="url(#b6)"/>
<rect x="281.00" y="492.00" width="11.00" height="4.00" rx="2.00" fill="#cbcbcb" filter="url(#b12)"/>
<rect x="296.00" y="492.00" width="11.00" height="4.00" rx="2.00" fill="#cbcbcb" filter="url(#b12)"/>
<rect x="309.50" y="492.00" width="10.00" height="4.00" rx="2.00" fill="#cbcbcb" filter="url(#b12)"/>
<rect x="281.80" y="509.00" width="13.20" height="4.60" rx="2.30" fill="#0c0c0c" filter="url(#b6)"/>
<rect x="295.50" y="509.00" width="12.50" height="4.60" rx="2.30" fill="#0c0c0c" filter="url(#b6)"/>
<rect x="309.20" y="509.00" width="10.80" height="4.60" rx="2.30" fill="#0c0c0c" filter="url(#b6)"/>
<rect x="322.30" y="509.00" width="11.30" height="4.60" rx="2.30" fill="#0c0c0c" filter="url(#b6)"/>
<rect x="339.60" y="472.70" width="9.50" height="4.40" rx="2.20" fill="#080808" filter="url(#b6)"/>
<rect x="352.70" y="473.50" width="9.50" height="3.00" rx="1.50" fill="#1e1e1e" filter="url(#b6)"/>
<rect x="367.60" y="473.70" width="8.90" height="2.60" rx="1.30" fill="#444" filter="url(#b7)"/>
<rect x="381.90" y="473.90" width="9.50" height="2.60" rx="1.30" fill="#666" filter="url(#b7)"/>
<rect x="341.30" y="492.40" width="7.80" height="2.40" rx="1.20" fill="#c2c2c2" filter="url(#b10)"/>
<rect x="352.70" y="492.10" width="10.10" height="2.80" rx="1.40" fill="#9a9a9a" filter="url(#b9)"/>
<rect x="367.60" y="491.40" width="9.50" height="3.40" rx="1.70" fill="#101010" filter="url(#b6)"/>
<ellipse cx="387.0" cy="492.9" rx="5.8" ry="3.0" fill="#080808" filter="url(#b6)"/>
<rect x="339.60" y="512.80" width="10.70" height="3.00" rx="1.50" fill="#adadad" filter="url(#b9)"/>
<rect x="339.60" y="509.30" width="10.70" height="2.80" rx="1.40" fill="#1e1e1e" filter="url(#b5)"/>
<rect x="353.30" y="512.80" width="10.10" height="3.00" rx="1.50" fill="#adadad" filter="url(#b9)"/>
<rect x="353.30" y="509.30" width="10.10" height="2.80" rx="1.40" fill="#1e1e1e" filter="url(#b5)"/>
<rect x="367.00" y="512.80" width="10.70" height="3.00" rx="1.50" fill="#adadad" filter="url(#b9)"/>
<rect x="367.00" y="509.30" width="10.70" height="2.80" rx="1.40" fill="#1e1e1e" filter="url(#b5)"/>
<rect x="381.30" y="512.80" width="10.70" height="3.00" rx="1.50" fill="#adadad" filter="url(#b9)"/>
<rect x="381.30" y="509.30" width="10.70" height="2.80" rx="1.40" fill="#1e1e1e" filter="url(#b5)"/>
</svg>
</body></html>
